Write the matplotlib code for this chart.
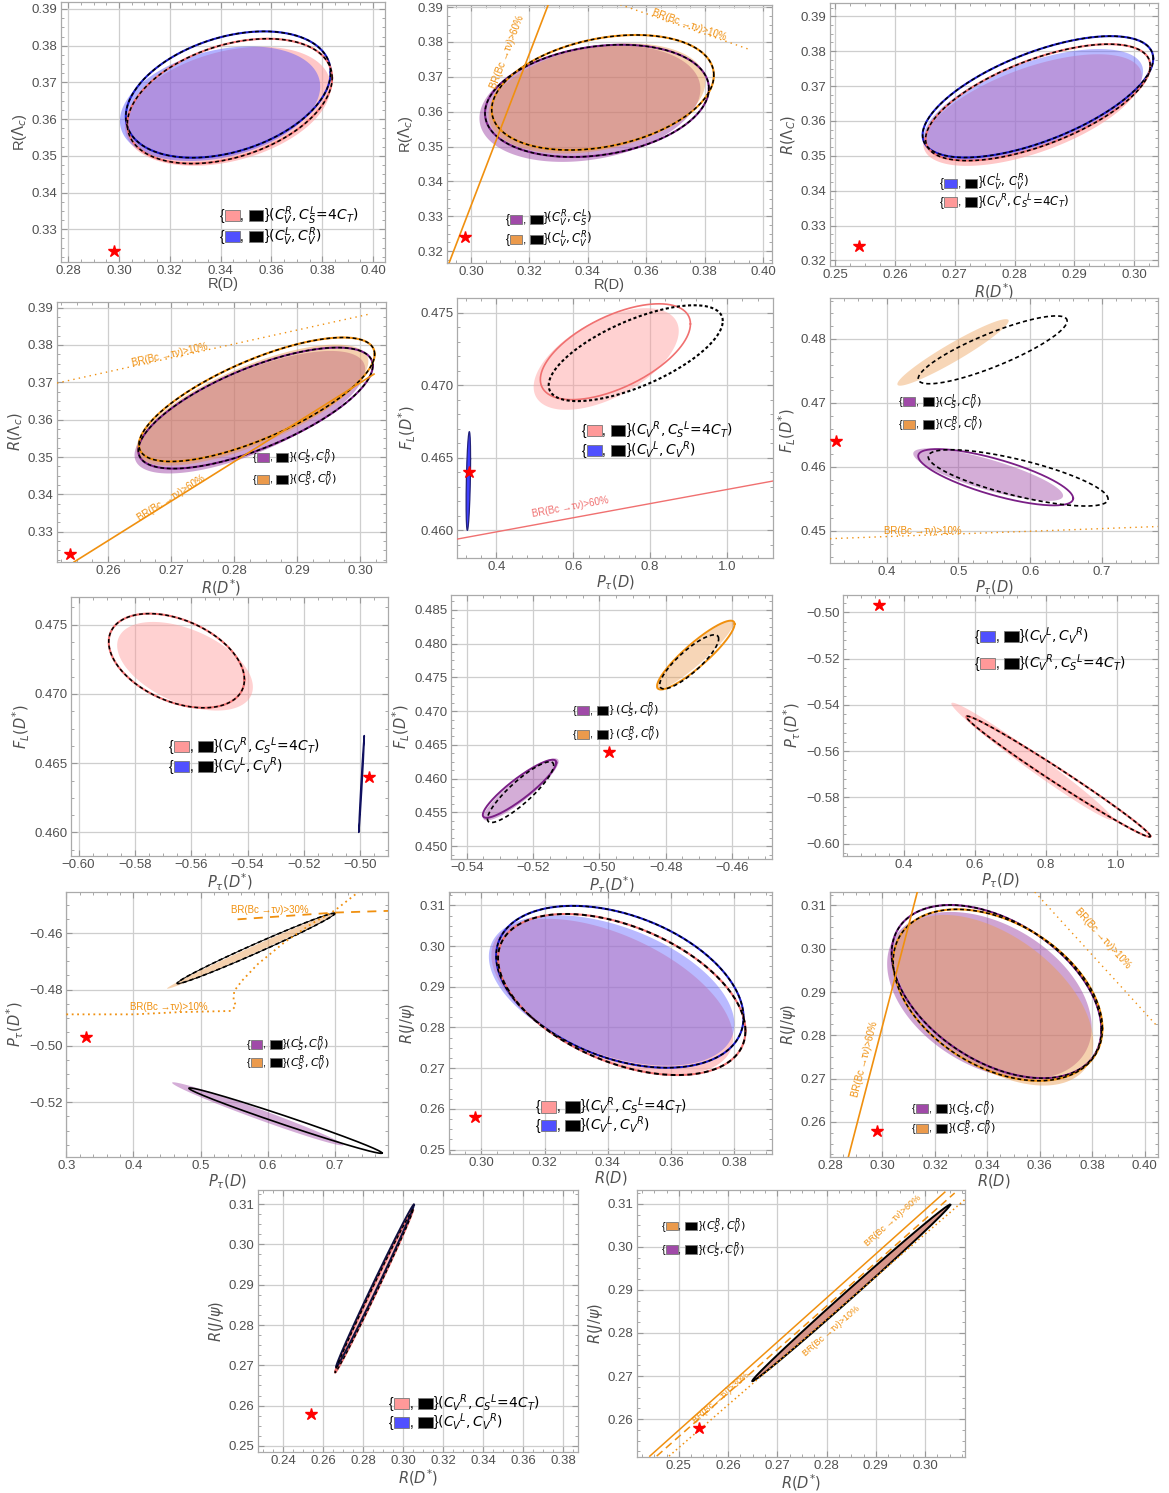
import numpy as np
import matplotlib
matplotlib.use("Agg")
import matplotlib.pyplot as plt
from matplotlib.ticker import AutoMinorLocator
from matplotlib.patches import Rectangle
from matplotlib.offsetbox import TextArea, HPacker, VPacker, AnnotationBbox, DrawingArea

plt.rcParams['font.family'] = ['Liberation Sans', 'DejaVu Sans']
plt.rcParams['mathtext.fontset'] = 'dejavusans'

# SM predictions (red stars)
sm_RD, sm_RDs, sm_RLc = 0.298, 0.254, 0.324
sm_FL, sm_PD, sm_PDs, sm_RJ = 0.464, 0.33, -0.497, 0.258

# ellipses: (x centre, y centre, x half-extent, y half-extent, correlation)
# panel 1: R(D) vs R(Lc)
p1_pink_fill = (0.3428, 0.3635, 0.0405, 0.0162, 0.33)
p1_blue_fill = (0.3398, 0.3642, 0.0394, 0.0156, 0.30)
p1_blue_line = (0.3430, 0.3667, 0.0403, 0.0172, 0.35)
p1_pink_line = (0.3436, 0.3649, 0.0403, 0.0170, 0.37)
# panel 2
p2_purple_fill = (0.3407, 0.3623, 0.0378, 0.0167, 0.25)
p2_orange_fill = (0.3431, 0.3638, 0.0371, 0.0158, 0.30)
p2_purple_line = (0.3431, 0.3631, 0.0383, 0.0161, 0.22)
p2_orange_line = (0.3451, 0.3655, 0.0380, 0.0165, 0.30)
p2_br60_x, p2_br60_y = [0.2925, 0.3264], [0.3166, 0.3906]
p2_br10_x, p2_br10_y = [0.3511, 0.3951], [0.3907, 0.3779]
# panel 3: R(D*) vs R(Lc)
p3_pink_fill = (0.2830, 0.3631, 0.0183, 0.0160, 0.60)
p3_blue_fill = (0.2831, 0.3646, 0.0184, 0.0160, 0.60)
p3_blue_line = (0.2839, 0.3669, 0.0193, 0.0174, 0.63)
p3_pink_line = (0.2839, 0.3653, 0.0188, 0.0167, 0.63)
# panel 4
p4_purple_fill = (0.2825, 0.3620, 0.0183, 0.0164, 0.70)
p4_orange_fill = (0.2829, 0.3639, 0.0184, 0.0162, 0.72)
p4_purple_line = (0.2834, 0.3631, 0.0186, 0.0162, 0.70)
p4_orange_line = (0.2836, 0.3654, 0.0187, 0.0166, 0.73)
p4_br10_x, p4_br10_y = [0.2519, 0.3013], [0.3698, 0.3882]
p4_br60_x, p4_br60_y = [0.2546, 0.3022], [0.3219, 0.3722]
# panel 5: P_tau(D) vs F_L(D*)
p5_pink_fill = (0.6858, 0.4718, 0.1887, 0.0035, 0.55)
p5_pink_line = (0.7097, 0.4723, 0.1952, 0.0033, 0.58)
p5_black_line = (0.7626, 0.4722, 0.2264, 0.0033, 0.67)
p5_blue = (0.3272, 0.4634, 0.0058, 0.0034, 0.45)
p5_br60_x, p5_br60_y = [0.2977, 1.1197], [0.4594, 0.4634]
# panel 6
p6_orange_fill = (0.4925, 0.4779, 0.0775, 0.0052, 0.95)
p6_orange_dash = (0.5477, 0.4783, 0.1037, 0.0053, 0.85)
p6_purple_fill = (0.5414, 0.4588, 0.1043, 0.0041, -0.80)
p6_purple_line = (0.5519, 0.4584, 0.1079, 0.0044, -0.75)
p6_purple_dash = (0.5832, 0.4583, 0.1252, 0.0044, -0.75)
p6_br10_x, p6_br10_y = [0.3212, 0.7779], [0.4488, 0.4507]
# panel 7: P_tau(D*) vs F_L(D*)
p7_pink_fill = (-0.5622, 0.4720, 0.0241, 0.0032, -0.47)
p7_pink_line = (-0.5652, 0.4724, 0.0241, 0.0034, -0.40)
p7_blue_line = (-0.4995, 0.4635, 0.0010, 0.0035, 0.98)
# panel 8
p8_purple_fill = (-0.5237, 0.4584, 0.0114, 0.0046, 0.90)
p8_purple_line = (-0.5241, 0.4585, 0.0111, 0.0043, 0.90)
p8_purple_dash = (-0.5238, 0.4580, 0.0100, 0.0045, 0.88)
p8_orange_fill = (-0.4712, 0.4783, 0.0117, 0.0051, 0.93)
p8_orange_line = (-0.4709, 0.4783, 0.0117, 0.0051, 0.90)
p8_orange_dash = (-0.4729, 0.4773, 0.0089, 0.0040, 0.85)
# panel 9: P_tau(D) vs P_tau(D*)
p9_pink_fill = (0.7620, -0.5645, 0.2277, 0.0254, -0.985)
p9_pink_line = (0.8357, -0.5710, 0.2592, 0.0261, -0.990)
# panel 10
p10_orange_fill = (0.5750, -0.4663, 0.1250, 0.0134, 0.995)
p10_orange_line = (0.5825, -0.4654, 0.1175, 0.0125, 0.990)
p10_purple_fill = (0.5850, -0.5241, 0.1275, 0.0112, -0.985)
p10_purple_line = (0.6263, -0.5265, 0.1438, 0.0116, -0.990)
p10_br10_x = [0.30, 0.40, 0.47, 0.545, 0.5525, 0.549, 0.55, 0.5615, 0.585, 0.625, 0.665, 0.70, 0.735]
p10_br10_y = [-0.4888, -0.4888, -0.4880, -0.4876, -0.4858, -0.4835, -0.4805, -0.4769, -0.4710,
              -0.4632, -0.4567, -0.4519, -0.4454]
p10_br30_x, p10_br30_y = [0.555, 0.70, 0.779], [-0.4551, -0.4527, -0.4521]
# panel 11: R(D) vs R(J/psi)
p11_pink_fill = (0.3414, 0.2876, 0.0382, 0.0191, -0.53)
p11_blue_fill = (0.3412, 0.2891, 0.0388, 0.0185, -0.45)
p11_blue_line = (0.3438, 0.2900, 0.0391, 0.0199, -0.38)
p11_pink_line = (0.3444, 0.2881, 0.0391, 0.0198, -0.45)
# panel 12
p12_purple_fill = (0.3408, 0.2892, 0.0390, 0.0193, -0.38)
p12_orange_fill = (0.3426, 0.2881, 0.0378, 0.0197, -0.50)
p12_purple_line = (0.3435, 0.2901, 0.0400, 0.0200, -0.44)
p12_orange_line = (0.3440, 0.2893, 0.0399, 0.0198, -0.39)
p12_br60_x, p12_br60_y = [0.287, 0.3133], [0.2519, 0.3131]
p12_br10_x, p12_br10_y = [0.3581, 0.4051], [0.3131, 0.2819]
# panel 13: R(D*) vs R(J/psi)
p13_pink_fill = (0.2852, 0.2884, 0.0195, 0.0201, 0.996)
p13_pink_line = (0.2855, 0.2884, 0.0195, 0.0202, 0.997)
p13_blue_line = (0.2860, 0.2897, 0.0195, 0.0202, 0.997)
# panel 14
p14_purple_fill = (0.2847, 0.2890, 0.0200, 0.0204, 0.998)
p14_orange_fill = (0.2850, 0.2893, 0.0200, 0.0204, 0.998)
p14_black_line = (0.2850, 0.2893, 0.0201, 0.0205, 0.998)
p14_br60_x, p14_br60_y = [0.2441, 0.3040], [0.2514, 0.3127]
p14_br30_x, p14_br30_y = [0.2455, 0.3060], [0.2514, 0.3125]
p14_br10_x, p14_br10_y = [0.2480, 0.3081], [0.2514, 0.3110]

BLUE, BLUE_L = '#5050ff', '#1c1cc8'
PINK, PINK_L = '#ff9999', '#f07070'
PURPLE, PURPLE_L = '#a04aa8', '#7a1f86'
ORANGE, ORANGE_L = '#eb9a4c', '#f0900f'

W, H = 1169, 1493
fig = plt.figure(figsize=(W / 100, H / 100), dpi=100)


def ell(e, n=300):
    cx, cy, rx, ry, rho = e
    t = np.linspace(0, 2 * np.pi, n)
    d = np.arccos(rho)
    return cx + rx * np.cos(t), cy + ry * np.cos(t - d)


def fill(ax, e, color, alpha):
    x, y = ell(e)
    ax.fill(x, y, color=color, alpha=alpha, lw=0, zorder=2)


def solid(ax, e, color, lw=1.3):
    x, y = ell(e)
    ax.plot(x, y, color=color, lw=lw, zorder=3)


def dashed(ax, e, color, lw=1.1):
    x, y = ell(e)
    if color is not None:
        ax.plot(x, y, color=color, lw=1.5, zorder=3)
    ax.plot(x, y, color='k', lw=lw, ls=(0, (2.5, 1.8)), zorder=4)


def star(ax, x, y):
    ax.plot(x, y, marker='*', color='red', ms=9, zorder=6, ls='none')


def make_ax(box, xlim, ylim, xt, yt, xd, yd, xlabel, ylabel):
    l, t, r, b = box
    ax = fig.add_axes([l / W, 1 - b / H, (r - l) / W, (b - t) / H])
    ax.patch.set_facecolor('none')
    ax.set_xlim(xlim)
    ax.set_ylim(ylim)
    ax.set_xticks(xt)
    ax.set_yticks(yt)
    ax.set_xticklabels([f"{v:.{xd}f}".replace('-', '\u2212') for v in xt])
    ax.set_yticklabels([f"{v:.{yd}f}".replace('-', '\u2212') for v in yt])
    ax.xaxis.set_minor_locator(AutoMinorLocator(4))
    ax.yaxis.set_minor_locator(AutoMinorLocator(4))
    ax.tick_params(which='both', direction='in', top=True, right=True, colors='#999999',
                   labelcolor='#505050', labelsize=9.5, pad=2.5)
    ax.tick_params(which='major', length=4)
    ax.tick_params(which='minor', length=2)
    for s in ax.spines.values():
        s.set_color('#aaaaaa')
        s.set_linewidth(0.9)
    ax.grid(True, which='major', color='#cecece', lw=0.9)
    ax.set_axisbelow(True)
    ax.set_xlabel(xlabel, fontsize=10.5, color='#505050', labelpad=0)
    ax.set_ylabel(ylabel, fontsize=10.5, color='#505050', labelpad=2)
    return ax


def swatch(col, fs):
    w, h, d = 1.05 * fs, 0.8 * fs, 0.08 * fs
    da = DrawingArea(w, h, 0, d)
    da.add_artist(Rectangle((0, -d), w, h, fc=col, ec='#777777', lw=0.6))
    return da


def legend(ax, x, y, rows, fs=10, sep=0):
    boxes = []
    for col, lab in rows:
        kids = [TextArea("{", textprops=dict(fontsize=fs, color='k')),
                swatch(col, fs),
                TextArea(", ", textprops=dict(fontsize=fs, color='k')),
                swatch('black', fs),
                TextArea("}" + lab, textprops=dict(fontsize=fs, color='k'))]
        boxes.append(HPacker(children=kids, align="baseline", pad=0, sep=0.5))
    box = VPacker(children=boxes, align="left", pad=0, sep=sep)
    ab = AnnotationBbox(box, (x, y), xycoords='axes fraction', box_alignment=(0, 0.5),
                        frameon=False, pad=0, zorder=7)
    ax.add_artist(ab)


def line_text(ax, x, y, s, lx, ly, color, fs=7):
    p0 = ax.transData.transform((lx[0], ly[0]))
    p1 = ax.transData.transform((lx[-1], ly[-1]))
    ang = np.degrees(np.arctan2(p1[1] - p0[1], p1[0] - p0[0]))
    ax.text(x, y, s, rotation=ang, rotation_mode='anchor', ha='center', va='center',
            fontsize=fs, color=color, zorder=5)


L_VR_S4T = r"$(C_V^R,C_S^L\!=\!4C_T)$"
L_VL_VR = r"$(C_V^L,C_V^R)$"
L_VR_S4T_b = r"$(C_V{}^R,C_S{}^L\!=\!4C_T)$"
L_VL_VR_b = r"$(C_V{}^L,C_V{}^R)$"
L_SL_VR = r"$(C_S^L,C_V^R)$"
L_SR_VR = r"$(C_S^R,C_V^R)$"
BR = "BR(Bc \u2192\u03c4\u03bd)>"

# ---- panel 1
ax = make_ax((61, 2, 385, 262), (0.2772, 0.4047), (0.3211, 0.3919),
             np.arange(0.28, 0.401, 0.02), np.arange(0.33, 0.391, 0.01), 2, 2,
             "R(D)", r"R($\Lambda_c$)")
fill(ax, p1_pink_fill, PINK, 0.55)
fill(ax, p1_blue_fill, BLUE, 0.45)
dashed(ax, p1_blue_line, BLUE_L)
dashed(ax, p1_pink_line, PINK_L)
star(ax, sm_RD, sm_RLc)
legend(ax, 0.49, 0.138, [(PINK, L_VR_S4T), (BLUE, L_VL_VR)], fs=10, sep=-1)

# ---- panel 2
ax = make_ax((447, 5, 772, 263), (0.2918, 0.4030), (0.3166, 0.3906),
             np.arange(0.30, 0.401, 0.02), np.arange(0.32, 0.391, 0.01), 2, 2,
             "R(D)", r"R($\Lambda_c$)")
fill(ax, p2_purple_fill, PURPLE, 0.5)
fill(ax, p2_orange_fill, ORANGE, 0.45)
dashed(ax, p2_purple_line, PURPLE_L)
dashed(ax, p2_orange_line, ORANGE_L)
ax.plot(p2_br60_x, p2_br60_y, color=ORANGE_L, lw=1.2, zorder=5)
ax.plot(p2_br10_x, p2_br10_y, color=ORANGE_L, lw=1.0, ls=(0, (1, 3)), zorder=5)
line_text(ax, 0.3125, 0.3772, BR + "60%", p2_br60_x, p2_br60_y, ORANGE_L)
line_text(ax, 0.3747, 0.3850, BR + "10%", p2_br10_x, p2_br10_y, ORANGE_L)
star(ax, sm_RD, sm_RLc)
legend(ax, 0.18, 0.13, [(PURPLE, r"$(C_V^R,C_S^L)$"), (ORANGE, L_VL_VR)], fs=8.5, sep=0)

# ---- panel 3
ax = make_ax((830, 3, 1158, 266), (0.2491, 0.3040), (0.3184, 0.3938),
             np.arange(0.25, 0.301, 0.01), np.arange(0.32, 0.391, 0.01), 2, 2,
             r"$R(D^{*})$", r"$R(\Lambda_C)$")
fill(ax, p3_pink_fill, PINK, 0.55)
fill(ax, p3_blue_fill, BLUE, 0.40)
dashed(ax, p3_blue_line, BLUE_L)
dashed(ax, p3_pink_line, PINK_L)
star(ax, sm_RDs, sm_RLc)
legend(ax, 0.335, 0.28, [(BLUE, r"$(C_V^L,\,C_V^R)$"), (PINK, L_VR_S4T_b)], fs=8.5, sep=-1)

# ---- panel 4
ax = make_ax((57, 302, 386, 562), (0.2519, 0.3041), (0.3219, 0.3915),
             np.arange(0.26, 0.301, 0.01), np.arange(0.33, 0.391, 0.01), 2, 2,
             r"$R(D^{*})$", r"$R(\Lambda_c)$")
fill(ax, p4_purple_fill, PURPLE, 0.5)
fill(ax, p4_orange_fill, ORANGE, 0.45)
dashed(ax, p4_purple_line, PURPLE_L)
dashed(ax, p4_orange_line, ORANGE_L)
ax.plot(p4_br10_x, p4_br10_y, color=ORANGE_L, lw=1.0, ls=(0, (1, 3)), zorder=5)
ax.plot(p4_br60_x, p4_br60_y, color=ORANGE_L, lw=1.2, zorder=5)
line_text(ax, 0.2698, 0.3775, BR + "10%", p4_br10_x, p4_br10_y, ORANGE_L)
line_text(ax, 0.2700, 0.3390, BR + "60%", p4_br60_x, p4_br60_y, ORANGE_L)
star(ax, sm_RDs, sm_RLc)
legend(ax, 0.595, 0.36, [(PURPLE, L_SL_VR), (ORANGE, L_SR_VR)], fs=8, sep=2)

# ---- panel 5
ax = make_ax((457, 298, 773, 558), (0.2977, 1.1197), (0.4581, 0.4760),
             [0.4, 0.6, 0.8, 1.0], [0.460, 0.465, 0.470, 0.475], 1, 3,
             r"$P_{\tau}(D)$", r"$F_L(D^{*})$")
ax.xaxis.set_minor_locator(AutoMinorLocator(5))
ax.yaxis.set_minor_locator(AutoMinorLocator(5))
fill(ax, p5_pink_fill, PINK, 0.45)
solid(ax, p5_pink_line, PINK_L, lw=1.2)
x5, y5 = ell(p5_black_line)
ax.plot(x5, y5, color='k', lw=1.5, ls=(0, (1.5, 1.2)), zorder=4)
fill(ax, p5_blue, '#3535ff', 0.95)
solid(ax, p5_blue, '#22227a', lw=0.9)
ax.plot(p5_br60_x, p5_br60_y, color=PINK_L, lw=1.0, zorder=5)
line_text(ax, 0.5925, 0.4616, BR + "60%", p5_br60_x, p5_br60_y, PINK_L)
star(ax, sm_PD, sm_FL)
legend(ax, 0.395, 0.454, [(PINK, L_VR_S4T_b), (BLUE, L_VL_VR_b)], fs=10, sep=-1)

# ---- panel 6
ax = make_ax((830, 298, 1158, 563), (0.3212, 0.7779), (0.4450, 0.4864),
             [0.4, 0.5, 0.6, 0.7], [0.45, 0.46, 0.47, 0.48], 1, 2,
             r"$P_{\tau}(D)$", r"$F_L(D^{*})$")
ax.xaxis.set_minor_locator(AutoMinorLocator(5))
ax.yaxis.set_minor_locator(AutoMinorLocator(5))
fill(ax, p6_orange_fill, ORANGE, 0.4)
dashed(ax, p6_orange_dash, None, lw=1.2)
fill(ax, p6_purple_fill, PURPLE, 0.45)
solid(ax, p6_purple_line, PURPLE_L, lw=1.3)
dashed(ax, p6_purple_dash, None, lw=1.2)
ax.plot(p6_br10_x, p6_br10_y, color=ORANGE_L, lw=1.0, ls=(0, (1, 3)), zorder=5)
ax.text(0.451, 0.4500, BR + "10%", fontsize=7, color=ORANGE_L, ha='center', va='center', zorder=5)
star(ax, sm_PD, sm_FL)
legend(ax, 0.21, 0.565, [(PURPLE, L_SL_VR), (ORANGE, L_SR_VR)], fs=8, sep=2)

# ---- panel 7
ax = make_ax((71, 597, 388, 856), (-0.6027, -0.4901), (0.4583, 0.4770),
             np.arange(-0.60, -0.499, 0.02), [0.460, 0.465, 0.470, 0.475], 2, 3,
             r"$P_{\tau}(D^{*})$", r"$F_L(D^{*})$")
fill(ax, p7_pink_fill, PINK, 0.45)
dashed(ax, p7_pink_line, PINK_L)
fill(ax, p7_blue_line, BLUE_L, 0.9)
solid(ax, p7_blue_line, '#101060', lw=1.0)
star(ax, sm_PDs, sm_FL)
legend(ax, 0.31, 0.385, [(PINK, L_VR_S4T_b), (BLUE, L_VL_VR_b)], fs=10, sep=-1)

# ---- panel 8
ax = make_ax((451, 595, 772, 859), (-0.5448, -0.4479), (0.4481, 0.4872),
             np.arange(-0.54, -0.459, 0.02), np.arange(0.450, 0.4851, 0.005), 2, 3,
             r"$P_{\tau}(D^{*})$", r"$F_L(D^{*})$")
fill(ax, p8_purple_fill, PURPLE, 0.45)
solid(ax, p8_purple_line, PURPLE_L, lw=1.4)
dashed(ax, p8_purple_dash, None, lw=1.2)
fill(ax, p8_orange_fill, ORANGE, 0.4)
solid(ax, p8_orange_line, ORANGE_L, lw=1.4)
dashed(ax, p8_orange_dash, None, lw=1.2)
star(ax, sm_PDs, sm_FL)
legend(ax, 0.38, 0.517, [(PURPLE, " " + L_SL_VR), (ORANGE, " " + L_SR_VR)], fs=8, sep=3)

# ---- panel 9
ax = make_ax((843, 595, 1158, 856), (0.2291, 1.1164), (-0.6054, -0.4925),
             [0.4, 0.6, 0.8, 1.0], np.arange(-0.60, -0.499, 0.02), 1, 2,
             r"$P_{\tau}(D)$", r"$P_{\tau}(D^{*})$")
ax.xaxis.set_minor_locator(AutoMinorLocator(5))
ax.yaxis.set_minor_locator(AutoMinorLocator(5))
fill(ax, p9_pink_fill, PINK, 0.45)
dashed(ax, p9_pink_line, PINK_L)
ax.plot(sm_PD, sm_PDs, marker='*', color=BLUE_L, ms=5, zorder=6)
star(ax, sm_PD, sm_PDs)
legend(ax, 0.42, 0.79, [(BLUE, L_VL_VR_b), (PINK, L_VR_S4T_b)], fs=10, sep=4)

# ---- panel 10
ax = make_ax((66, 892, 388, 1157), (0.2995, 0.7790), (-0.5394, -0.4454),
             [0.3, 0.4, 0.5, 0.6, 0.7], [-0.52, -0.50, -0.48, -0.46], 1, 2,
             r"$P_{\tau}(D)$", r"$P_{\tau}(D^{*})$")
ax.xaxis.set_minor_locator(AutoMinorLocator(5))
fill(ax, p10_orange_fill, ORANGE, 0.45)
dashed(ax, p10_orange_line, None, lw=1.2)
solid(ax, p10_orange_line, 'k', lw=0.7)
fill(ax, p10_purple_fill, PURPLE, 0.45)
solid(ax, p10_purple_line, 'k', lw=1.2)
ax.plot(p10_br10_x, p10_br10_y, color=ORANGE_L, lw=1.3, ls=(0, (1, 2)), zorder=5)
ax.plot(p10_br30_x, p10_br30_y, color=ORANGE_L, lw=1.3, ls=(0, (5, 4)), zorder=5)
ax.text(0.4525, -0.4862, BR + "10%", fontsize=7, color=ORANGE_L, ha='center', va='center', zorder=5)
ax.text(0.6025, -0.4519, BR + "30%", fontsize=7, color=ORANGE_L, ha='center', va='center', zorder=5)
star(ax, sm_PD, sm_PDs)
legend(ax, 0.56, 0.39, [(PURPLE, L_SL_VR), (ORANGE, L_SR_VR)], fs=8, sep=-1)

# ---- panel 11
ax = make_ax((449, 892, 772, 1154), (0.2898, 0.3919), (0.2489, 0.3133),
             np.arange(0.30, 0.381, 0.02), np.arange(0.25, 0.311, 0.01), 2, 2,
             r"$R(D)$", r"$R(J/\psi)$")
fill(ax, p11_pink_fill, PINK, 0.55)
fill(ax, p11_blue_fill, BLUE, 0.40)
dashed(ax, p11_blue_line, BLUE_L)
dashed(ax, p11_pink_line, PINK_L, lw=1.4)
star(ax, sm_RD, sm_RJ)
legend(ax, 0.27, 0.145, [(PINK, L_VR_S4T_b), (BLUE, L_VL_VR_b)], fs=10, sep=-2)

# ---- panel 12
ax = make_ax((830, 892, 1158, 1157), (0.2800, 0.4051), (0.2519, 0.3131),
             np.arange(0.28, 0.401, 0.02), np.arange(0.26, 0.311, 0.01), 2, 2,
             r"$R(D)$", r"$R(J/\psi)$")
fill(ax, p12_purple_fill, PURPLE, 0.5)
fill(ax, p12_orange_fill, ORANGE, 0.45)
dashed(ax, p12_purple_line, PURPLE_L)
dashed(ax, p12_orange_line, ORANGE_L)
ax.plot(p12_br60_x, p12_br60_y, color=ORANGE_L, lw=1.2, zorder=5)
ax.plot(p12_br10_x, p12_br10_y, color=ORANGE_L, lw=1.0, ls=(0, (1, 3)), zorder=5)
line_text(ax, 0.2935, 0.2745, BR + "60%", p12_br60_x, p12_br60_y, ORANGE_L)
line_text(ax, 0.3840, 0.3025, BR + "10%", p12_br10_x, p12_br10_y, ORANGE_L)
star(ax, sm_RD, sm_RJ)
legend(ax, 0.25, 0.145, [(PURPLE, L_SL_VR), (ORANGE, L_SR_VR)], fs=8, sep=0)

# ---- panel 13
ax = make_ax((258, 1190, 578, 1452), (0.2275, 0.3875), (0.2485, 0.3135),
             np.arange(0.24, 0.381, 0.02), np.arange(0.25, 0.311, 0.01), 2, 2,
             r"$R(D^{*})$", r"$R(J/\psi)$")
fill(ax, p13_pink_fill, PINK, 0.6)
dashed(ax, p13_pink_line, PINK_L, lw=1.0)
solid(ax, p13_blue_line, '#101040', lw=1.4)
star(ax, sm_RDs, sm_RJ)
legend(ax, 0.41, 0.15, [(PINK, L_VR_S4T_b), (BLUE, L_VL_VR_b)], fs=10, sep=-2)

# ---- panel 14
ax = make_ax((637, 1190, 965, 1457), (0.2415, 0.3081), (0.2512, 0.3132),
             np.arange(0.25, 0.301, 0.01), np.arange(0.26, 0.311, 0.01), 2, 2,
             r"$R(D^{*})$", r"$R(J/\psi)$")
fill(ax, p14_purple_fill, PURPLE, 0.6)
fill(ax, p14_orange_fill, ORANGE, 0.5)
solid(ax, p14_black_line, 'k', lw=1.4)
ax.plot(p14_br60_x, p14_br60_y, color=ORANGE_L, lw=1.1, zorder=5)
ax.plot(p14_br30_x, p14_br30_y, color=ORANGE_L, lw=1.1, ls=(0, (5, 3)), zorder=5)
ax.plot(p14_br10_x, p14_br10_y, color=ORANGE_L, lw=1.1, ls=(0, (1, 2)), zorder=5)
line_text(ax, 0.2935, 0.3060, BR + "60%", p14_br60_x, p14_br60_y, ORANGE_L, fs=6.5)
line_text(ax, 0.2810, 0.2805, BR + "10%", p14_br10_x, p14_br10_y, ORANGE_L, fs=6.5)
line_text(ax, 0.2585, 0.2650, BR + "30%", p14_br30_x, p14_br30_y, ORANGE_L, fs=6.5)
star(ax, sm_RDs, sm_RJ)
legend(ax, 0.075, 0.82, [(ORANGE, L_SR_VR), (PURPLE, L_SL_VR)], fs=8, sep=3)

fig.savefig("out.png", dpi=100)
